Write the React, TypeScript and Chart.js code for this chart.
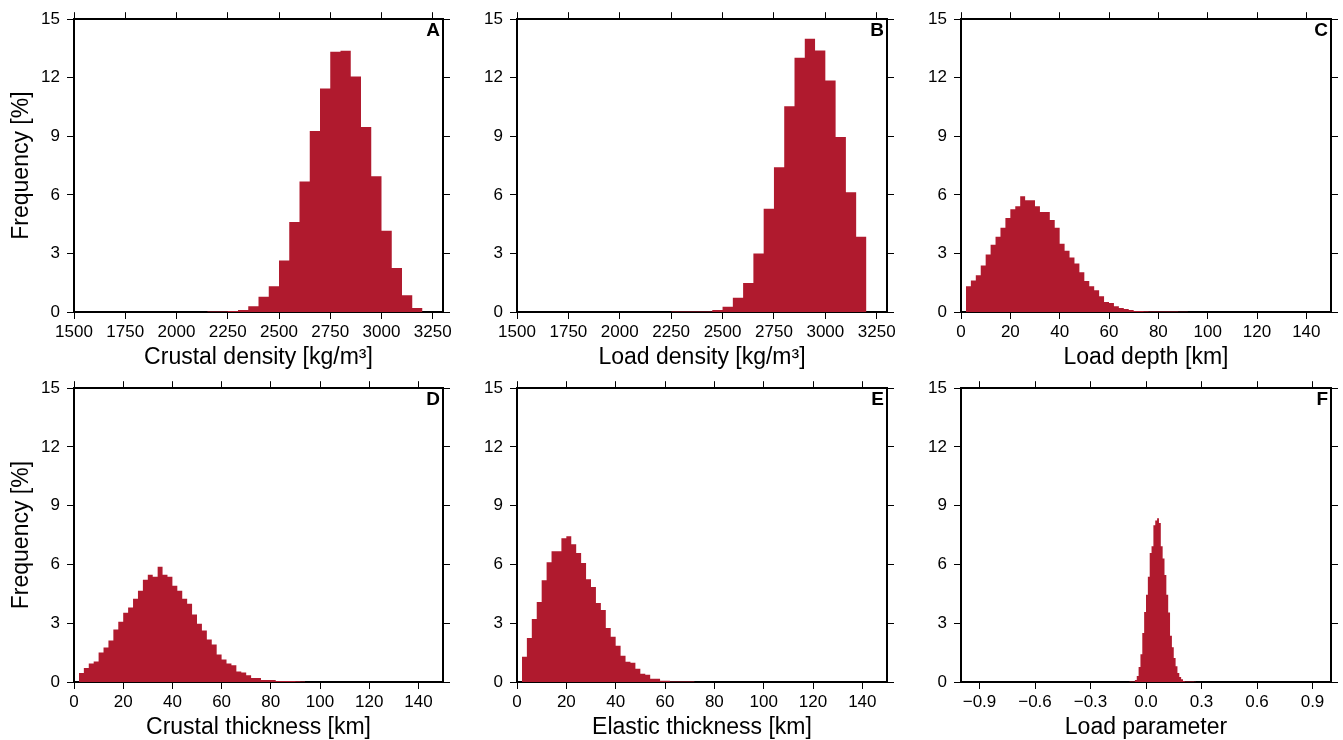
import React, { useEffect, useRef } from 'react';
import { Chart, registerables } from 'chart.js';

Chart.register(...registerables);

const FONT = "'Liberation Sans', Arial, Helvetica, sans-serif";
Chart.defaults.font.family = FONT;
Chart.defaults.color = '#000';

const BAR_COLOR = 'rgb(176,26,46)';

// ---------- Data ----------
const freqTicks = [0, 3, 6, 9, 12, 15];
const densityTicks = [1500, 1750, 2000, 2250, 2500, 2750, 3000, 3250];
const kmTicks = [0, 20, 40, 60, 80, 100, 120, 140];
const loadParamTicks = [-0.9, -0.6, -0.3, 0, 0.3, 0.6, 0.9];

// A: crustal density, bins of 50 starting at 2150
const crustalDensityBinStart = 2150;
const crustalDensityBinWidth = 50;
const crustalDensityFreq = [0.02, 0.03, 0.05, 0.1, 0.3, 0.78, 1.32, 2.64, 4.61, 6.69, 9.27, 11.45, 13.33, 13.38, 12.06, 9.48, 6.96, 4.16, 2.25, 0.86, 0.2];

// B: load density, bins of 50 starting at 2250
const loadDensityBinStart = 2250;
const loadDensityBinWidth = 50;
const loadDensityFreq = [0.02, 0.02, 0.02, 0.03, 0.1, 0.27, 0.73, 1.49, 3.0, 5.29, 7.42, 10.54, 13.02, 14.0, 13.4, 11.86, 8.97, 6.13, 3.85];

// C: load depth, bins of 2 km starting at 2
const loadDepthBinStart = 2;
const loadDepthBinWidth = 2;
const loadDepthFreq = [1.32, 1.62, 1.88, 2.38, 2.94, 3.45, 3.85, 4.31, 4.81, 5.27, 5.42, 5.93, 5.73, 5.73, 5.42, 5.12, 5.12, 4.71, 4.31, 3.5, 3.14, 2.79, 2.48, 2.03, 1.59, 1.32, 1.11, 0.81, 0.51, 0.46, 0.3, 0.2, 0.15, 0.1, 0.05, 0.05, 0.04, 0.03, 0.03, 0.02, 0.02, 0.02, 0.02, 0.01, 0.01];

// D: crustal thickness, bins of 2 km starting at 2
const crustalThicknessBinStart = 2;
const crustalThicknessBinWidth = 2;
const crustalThicknessFreq = [0.46, 0.71, 0.95, 1.05, 1.51, 1.76, 2.12, 2.68, 3.08, 3.54, 3.8, 4.25, 4.66, 5.22, 5.47, 5.37, 5.88, 5.47, 5.37, 4.92, 4.66, 4.25, 4.0, 3.44, 2.98, 2.63, 2.17, 1.92, 1.41, 1.15, 0.95, 0.85, 0.54, 0.49, 0.34, 0.2, 0.2, 0.1, 0.1, 0.1, 0.05, 0.05, 0.05, 0.05, 0.04, 0.03];

// E: elastic thickness, bins of 2 km starting at 2
const elasticThicknessBinStart = 2;
const elasticThicknessBinWidth = 2;
const elasticThicknessFreq = [1.29, 2.25, 3.22, 4.08, 5.2, 6.12, 6.68, 6.68, 7.34, 7.44, 7.03, 6.58, 6.07, 5.25, 4.85, 4.03, 3.68, 2.76, 2.31, 1.85, 1.34, 1.03, 0.98, 0.68, 0.42, 0.37, 0.17, 0.17, 0.07, 0.07, 0.03, 0.03, 0.02, 0.02, 0.02];

// F: load parameter, bins of 0.01 starting at -0.09
const loadParamBinStart = -0.09;
const loadParamBinWidth = 0.01;
const loadParamFreq = [0.02, 0.02, 0.03, 0.1, 0.3, 0.76, 1.42, 2.5, 3.58, 4.46, 5.37, 6.59, 6.93, 8.0, 8.24, 8.36, 8.12, 6.93, 6.3, 5.46, 4.46, 3.55, 2.36, 1.77, 1.22, 0.81, 0.46, 0.25, 0.14, 0.05, 0.03, 0.02, 0.02, 0.02, 0.02, 0.01];

const intFmt = (v: number) => String(Math.round(v));
const decFmt = (v: number) => (v < -1e-9 ? '\u2212' : '') + Math.abs(v).toFixed(1);

type Spec = {
  letter: string;
  xTitle: string;
  yTitle: string | null;
  xMin: number;
  xMax: number;
  xTicks: number[];
  binStart: number;
  binWidth: number;
  values: number[];
  fmt: (v: number) => string;
};

const specs: Spec[] = [
  { letter: 'A', xTitle: 'Crustal density [kg/m\u00B3]', yTitle: 'Frequency [%]', xMin: 1500, xMax: 3300, xTicks: densityTicks, binStart: crustalDensityBinStart, binWidth: crustalDensityBinWidth, values: crustalDensityFreq, fmt: intFmt },
  { letter: 'B', xTitle: 'Load density [kg/m\u00B3]', yTitle: null, xMin: 1500, xMax: 3300, xTicks: densityTicks, binStart: loadDensityBinStart, binWidth: loadDensityBinWidth, values: loadDensityFreq, fmt: intFmt },
  { letter: 'C', xTitle: 'Load depth [km]', yTitle: null, xMin: 0, xMax: 150, xTicks: kmTicks, binStart: loadDepthBinStart, binWidth: loadDepthBinWidth, values: loadDepthFreq, fmt: intFmt },
  { letter: 'D', xTitle: 'Crustal thickness [km]', yTitle: 'Frequency [%]', xMin: 0, xMax: 150, xTicks: kmTicks, binStart: crustalThicknessBinStart, binWidth: crustalThicknessBinWidth, values: crustalThicknessFreq, fmt: intFmt },
  { letter: 'E', xTitle: 'Elastic thickness [km]', yTitle: null, xMin: 0, xMax: 150, xTicks: kmTicks, binStart: elasticThicknessBinStart, binWidth: elasticThicknessBinWidth, values: elasticThicknessFreq, fmt: intFmt },
  { letter: 'F', xTitle: 'Load parameter', yTitle: null, xMin: -1, xMax: 1, xTicks: loadParamTicks, binStart: loadParamBinStart, binWidth: loadParamBinWidth, values: loadParamFreq, fmt: decFmt },
];

// ---------- Layout ----------
const COLS = [{ L: 74, R: 443 }, { L: 517, R: 887 }, { L: 961, R: 1331 }];
const ROWS = [{ T: 16, B: 312 }, { T: 385, B: 682 }];
const LEFT_W = 72;
const RIGHT_W = 14;
const TOP_H = 14;
const BOTTOM_H = 62;

function Panel({ spec, col, row }: { spec: Spec; col: number; row: number }) {
  const ref = useRef<HTMLCanvasElement>(null);
  const { L, R } = COLS[col];
  const { T, B } = ROWS[row];
  const left = L - LEFT_W;
  const top = T - TOP_H;
  const width = R - L + LEFT_W + RIGHT_W;
  const height = B - T + TOP_H + BOTTOM_H;

  useEffect(() => {
    const canvas = ref.current!;
    // histogram outline: one point per bin's left edge, plus the right edge of the last bin
    const n = spec.values.length;
    const points = spec.values.map((v, i) => ({ x: spec.binStart + spec.binWidth * i, y: v }));
    points.push({ x: spec.binStart + spec.binWidth * n, y: spec.values[n - 1] });

    const letterPlugin = {
      id: 'panelLetter',
      afterDraw(chart: any) {
        const { ctx, chartArea } = chart;
        ctx.save();
        ctx.font = `bold 19px ${FONT}`;
        ctx.fillStyle = '#000';
        ctx.textAlign = 'right';
        ctx.textBaseline = 'alphabetic';
        ctx.fillText(spec.letter, chartArea.right - 3, chartArea.top + 17);
        ctx.restore();
      },
    };

    const setTicks = (vals: number[]) => (scale: any) => {
      scale.ticks = vals.map((v) => ({ value: v }));
    };
    const grid = { display: true, drawOnChartArea: false, drawTicks: true, tickLength: 7, tickWidth: 1, color: '#000', lineWidth: 1, offset: false };
    const border = { display: true, width: 2, color: '#000' };

    const chart = new Chart(canvas, {
      type: 'line',
      data: {
        datasets: [
          {
            data: points as any,
            backgroundColor: BAR_COLOR,
            borderColor: BAR_COLOR,
            borderWidth: 0,
            pointRadius: 0,
            stepped: 'before',
            fill: 'origin',
            tension: 0,
            xAxisID: 'x',
            yAxisID: 'y',
          },
        ],
      },
      options: {
        responsive: false,
        animation: false,
        devicePixelRatio: 1,
        layout: { padding: 0 },
        plugins: { legend: { display: false }, tooltip: { enabled: false }, title: { display: false } },
        scales: {
          x: {
            type: 'linear',
            position: 'bottom',
            min: spec.xMin,
            max: spec.xMax,
            offset: false,
            z: 1,
            grid,
            border,
            afterBuildTicks: setTicks(spec.xTicks),
            afterFit: (s: any) => { s.height = BOTTOM_H; },
            ticks: { padding: 3, color: '#000', font: { size: 17 }, autoSkip: false, maxRotation: 0, callback: (v: any) => spec.fmt(Number(v)) },
            title: { display: true, text: spec.xTitle, color: '#000', font: { size: 23 }, padding: { top: 0, bottom: 3 } },
          },
          x2: {
            type: 'linear',
            axis: 'x',
            position: 'top',
            min: spec.xMin,
            max: spec.xMax,
            offset: false,
            z: 1,
            grid,
            border,
            afterBuildTicks: setTicks(spec.xTicks),
            afterFit: (s: any) => { s.height = TOP_H; },
            ticks: { display: false },
          },
          y: {
            type: 'linear',
            position: 'left',
            min: 0,
            max: 15,
            z: 1,
            grid,
            border,
            afterBuildTicks: setTicks(freqTicks),
            afterFit: (s: any) => { s.width = LEFT_W; },
            ticks: { padding: 7, color: '#000', font: { size: 17 }, autoSkip: false, callback: (v: any) => String(v) },
            title: { display: !!spec.yTitle, text: spec.yTitle || '', color: '#000', font: { size: 23 }, padding: { top: 6, bottom: 0 } },
          },
          y2: {
            type: 'linear',
            axis: 'y',
            position: 'right',
            min: 0,
            max: 15,
            z: 1,
            grid,
            border,
            afterBuildTicks: setTicks(freqTicks),
            afterFit: (s: any) => { s.width = RIGHT_W; },
            ticks: { display: false },
          },
        },
      } as any,
      plugins: [letterPlugin],
    });
    return () => chart.destroy();
  }, [spec]);

  return (
    <canvas
      ref={ref}
      width={width}
      height={height}
      style={{ position: 'absolute', left, top, width, height }}
    />
  );
}

export default function App() {
  return (
    <div style={{ position: 'absolute', left: 0, top: 0, width: 1343, height: 740, overflow: 'hidden', background: '#fff' }}>
      {specs.map((s, i) => (
        <Panel key={s.letter} spec={s} col={i % 3} row={Math.floor(i / 3)} />
      ))}
    </div>
  );
}
